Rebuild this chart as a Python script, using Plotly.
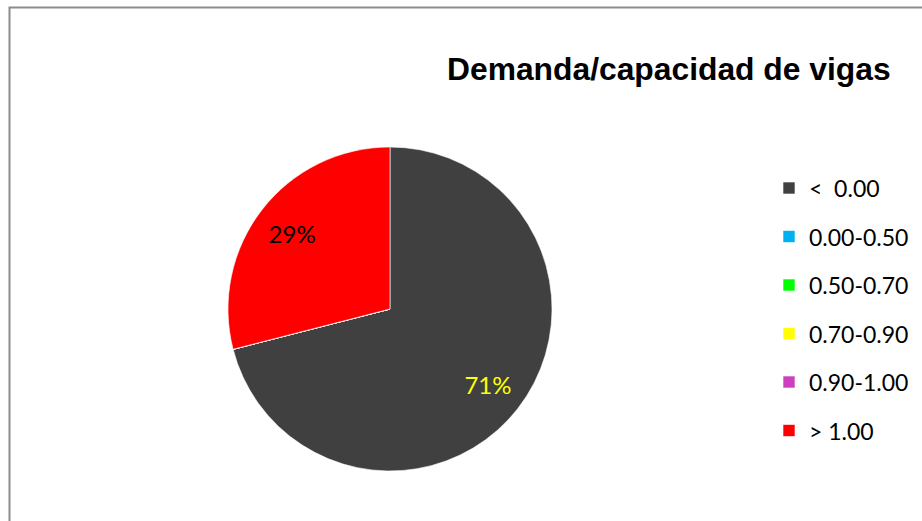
import plotly.graph_objects as go

# ---- data ----
categories = ["<\u00a0\u00a00.00", "0.00-0.50", "0.50-0.70", "0.70-0.90", "0.90-1.00", "> 1.00"]
values = [71, 0, 0, 0, 0, 29]
slice_colors = ["#404040", "#00B0F0", "#00FF00", "#FFFF00", "#CC3FBF", "#FF0000"]
label_colors = ["#FFFF00", "#000000", "#000000", "#000000", "#000000", "#000000"]
title_text = "Demanda/capacidad de vigas"

W, H = 922, 521

# legend text: small legend font with blank lines sets row pitch, span sets visible size
legend_labels = [
    "<br><br><span style='font-size:23px'>" + c.replace("<", "&lt;").replace(">", "&gt;") + "</span><br>"
    for c in categories
]
text_pos = ["inside" if v > 0 else "none" for v in values]

cx, cy, r = 390, 309, 162
dom = dict(x=[(cx - r) / W, (cx + r) / W], y=[(H - cy - r) / H, (H - cy + r) / H])

# solid pie (slices + legend)
pie = go.Pie(
    labels=legend_labels,
    values=values,
    sort=False,
    direction="clockwise",
    rotation=0,
    marker=dict(colors=slice_colors, line=dict(color="white", width=0.6)),
    textinfo="none",
    domain=dom,
    hoverinfo="label+percent",
)

# transparent ring on top carrying the percentage labels
labels_ring = go.Pie(
    labels=legend_labels,
    values=values,
    sort=False,
    direction="clockwise",
    rotation=0,
    hole=0.53,
    marker=dict(colors=["rgba(0,0,0,0)"] * len(values), line=dict(width=0)),
    texttemplate="%{percent:.0%}",
    textposition=text_pos,
    insidetextorientation="horizontal",
    textfont=dict(family="Lato", size=24, color=label_colors),
    domain=dom,
    showlegend=False,
    hoverinfo="skip",
)

fig = go.Figure([pie, labels_ring])

fig.update_layout(
    width=W,
    height=H,
    margin=dict(l=0, r=0, t=0, b=0),
    paper_bgcolor="white",
    plot_bgcolor="white",
    title=dict(
        text="<b>" + title_text + "</b>",
        font=dict(family="Liberation Sans, Arial", size=31.8, color="#000000"),
        x=447 / W,
        xanchor="left",
        xref="paper",
        y=1 - 69 / H,
        yanchor="middle",
        yref="paper",
    ),
    legend=dict(
        x=769 / W,
        xanchor="left",
        y=1 - 158.75 / H,
        yanchor="top",
        font=dict(family="Lato", size=8.75, color="#000000"),
        bgcolor="rgba(0,0,0,0)",
        valign="middle",
    ),
    showlegend=True,
    shapes=[
        dict(
            type="rect",
            xref="paper",
            yref="paper",
            x0=9.5 / W,
            x1=1.05,
            y0=-0.05,
            y1=1 - 7.5 / H,
            line=dict(color="#8C8C8C", width=2),
            fillcolor="rgba(0,0,0,0)",
            layer="above",
        )
    ],
)

fig.write_html(
    "out.html",
    config={"displayModeBar": False},
    post_script="document.body.style.margin='0px';document.body.style.overflow='hidden';",
)
